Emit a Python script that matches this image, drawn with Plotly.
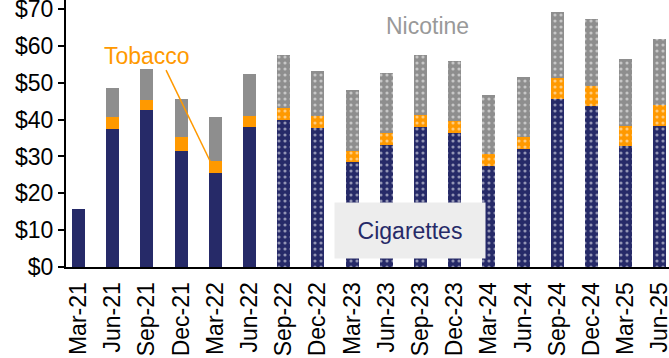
import plotly.graph_objects as go

# Quarterly spend per category ($)
quarters = ["Mar-21", "Jun-21", "Sep-21", "Dec-21", "Mar-22", "Jun-22",
            "Sep-22", "Dec-22", "Mar-23", "Jun-23", "Sep-23", "Dec-23",
            "Mar-24", "Jun-24", "Sep-24", "Dec-24", "Mar-25", "Jun-25"]
cigarettes = [15.8, 37.4, 42.7, 31.5, 25.6, 37.9,
              40.0, 37.8, 28.5, 33.2, 37.9, 36.3,
              27.4, 31.9, 45.6, 43.7, 32.9, 38.2]
tobacco = [0.0, 3.2, 2.6, 3.9, 3.1, 3.0,
           3.2, 3.2, 3.1, 3.2, 3.3, 3.3,
           3.2, 3.3, 5.6, 5.4, 5.4, 5.7]
nicotine = [0.0, 8.1, 8.5, 10.2, 11.9, 11.5,
            14.3, 12.3, 16.4, 16.3, 16.3, 16.2,
            16.2, 16.3, 18.1, 18.1, 18.1, 18.1]
# first quarter with the new reporting basis (patterned bars)
pattern_start = "Sep-22"

NAVY = "#262A68"
ORANGE = "#FF9900"
GRAY = "#8E8E8E"
FONT = "Liberation Sans, Arial, sans-serif"

start_idx = quarters.index(pattern_start)
shapes = ["" if i < start_idx else "." for i in range(len(quarters))]

fig = go.Figure()
for name, vals, col in [("Cigarettes", cigarettes, NAVY),
                        ("Tobacco", tobacco, ORANGE),
                        ("Nicotine", nicotine, GRAY)]:
    fig.add_trace(go.Bar(
        x=quarters, y=vals, name=name, width=0.38,
        marker=dict(color=col, line=dict(width=0),
                    pattern=dict(shape=shapes, fgcolor="white",
                                 size=6, solidity=0.22)),
    ))

n = len(quarters)
fig.update_layout(
    barmode="stack",
    width=669, height=358,
    margin=dict(l=66, r=0, t=0, b=91),
    paper_bgcolor="white", plot_bgcolor="white",
    showlegend=False,
    font=dict(family=FONT, size=23, color="black"),
    xaxis=dict(
        type="category", range=[-0.365, n - 0.735], automargin=False,
        showline=True, linecolor="black", linewidth=2,
        ticks="", tickangle=-90, ticklabelstandoff=4,
        tickfont=dict(size=23), showgrid=False,
    ),
    yaxis=dict(
        range=[0, 72.45], tickvals=list(range(0, 80, 10)),
        ticktext=[f"${v}" for v in range(0, 80, 10)], automargin=False,
        ticklabeloverflow="allow",
        showline=True, linecolor="black", linewidth=2,
        ticks="outside", ticklen=6, tickwidth=2, tickcolor="black",
        showgrid=False, zeroline=False, tickfont=dict(size=23),
    ),
)

# Series labels
mar22 = quarters.index("Mar-22")
fig.add_annotation(x=2.0, y=57.2, text="Tobacco", showarrow=False,
                   font=dict(color=ORANGE, size=23, family=FONT))
fig.add_shape(type="line", xref="x", yref="y",
              x0=2.56, y0=53.4, x1=mar22 - 0.15,
              y1=cigarettes[mar22] + tobacco[mar22],
              line=dict(color=ORANGE, width=1.5))
fig.add_annotation(x=10.2, y=65.4, text="Nicotine", showarrow=False,
                   font=dict(color="#999999", size=23, family=FONT))
fig.add_annotation(x=9.69, y=10.0, text="Cigarettes", showarrow=False,
                   width=150, height=55, borderpad=0, bgcolor="#EDEDED",
                   font=dict(color=NAVY, size=23, family=FONT))

fig.write_html("out.html")
